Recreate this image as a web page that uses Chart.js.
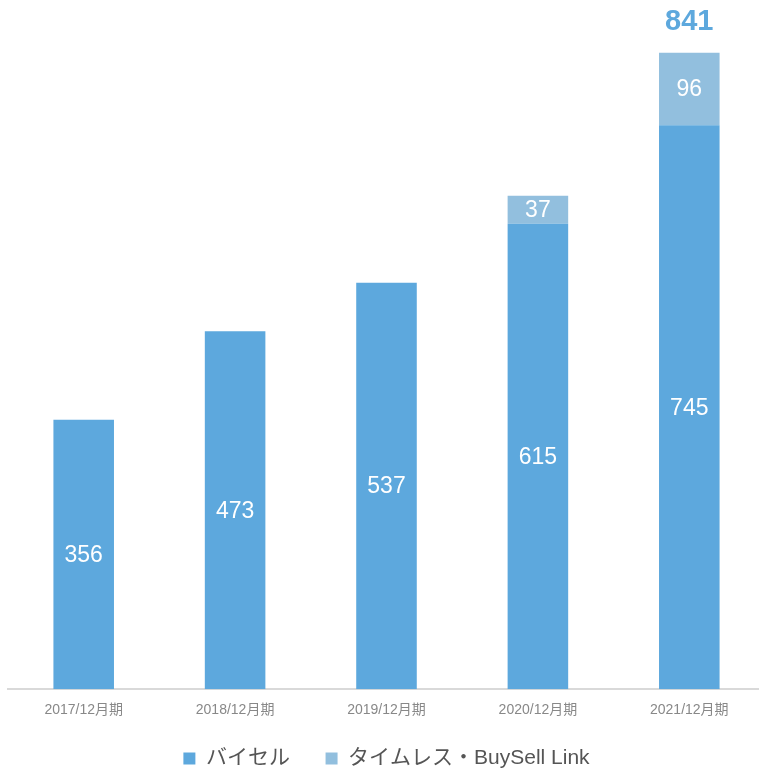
<!DOCTYPE html>
<html>
<head>
<meta charset="utf-8">
<script src="https://cdn.jsdelivr.net/npm/chart.js@4.4.1/dist/chart.umd.min.js"></script>
<style>
  html, body { margin: 0; padding: 0; background: #fff; overflow: hidden; }
  #wrap { width: 782px; height: 769px; }
</style>
</head>
<body>
<div id="wrap"><canvas id="salesChart"></canvas></div>
<script>
const periods = ["2017/12月期", "2018/12月期", "2019/12月期", "2020/12月期", "2021/12月期"];
const buysell = [356, 473, 537, 615, 745];
const timeless = [null, null, null, 37, 96];
const totalLabelIndex = 4;

const FONT = "'Liberation Sans', 'Noto Sans CJK JP', sans-serif";

const barLabels = {
  id: "barLabels",
  afterDatasetsDraw(chart) {
    const ctx = chart.ctx;
    ctx.save();
    ctx.textAlign = "center";
    ctx.textBaseline = "middle";
    chart.data.datasets.forEach((ds, di) => {
      const meta = chart.getDatasetMeta(di);
      meta.data.forEach((bar, i) => {
        const v = ds.data[i];
        if (v == null) return;
        const mid = (bar.y + bar.base) / 2;
        ctx.fillStyle = "#ffffff";
        ctx.font = "23px " + FONT;
        ctx.fillText(String(v), bar.x, mid + 1);
      });
    });
    // total above the last bar
    const top = chart.getDatasetMeta(1).data[totalLabelIndex];
    const total = buysell[totalLabelIndex] + (timeless[totalLabelIndex] || 0);
    ctx.fillStyle = "#5DA8DD";
    ctx.font = "bold 29px " + FONT;
    ctx.fillText(String(total), top.x, top.y - 31);
    ctx.restore();
  }
};

new Chart(document.getElementById("salesChart"), {
  type: "bar",
  data: {
    labels: periods,
    datasets: [
      {
        label: "バイセル",
        data: buysell,
        backgroundColor: "#5DA8DD",
        barPercentage: 0.4,
        categoryPercentage: 1
      },
      {
        label: "タイムレス・BuySell Link",
        data: timeless,
        backgroundColor: "#92BFDE",
        barPercentage: 0.4,
        categoryPercentage: 1
      }
    ]
  },
  options: {
    responsive: true,
    maintainAspectRatio: false,
    animation: false,
    layout: { padding: { left: 8, right: 17, top: 8, bottom: -10 } },
    plugins: {
      tooltip: { enabled: false },
      legend: {
        position: "bottom",
        labels: {
          boxWidth: 12,
          boxHeight: 12,
          padding: 24,
          color: "#555555",
          font: { family: FONT, size: 21 },
          generateLabels(chart) {
            const items = Chart.defaults.plugins.legend.labels.generateLabels(chart);
            items[0].text += "  ";
            return items;
          }
        }
      }
    },
    scales: {
      x: {
        stacked: true,
        grid: { display: false },
        border: { color: "#d9d9d9", width: 2 },
        ticks: {
          color: "#888888",
          padding: 5,
          font: { family: FONT, size: 14 },
          maxRotation: 0
        }
      },
      y: {
        stacked: true,
        display: false,
        min: 0,
        max: 900
      }
    }
  },
  plugins: [barLabels]
});
</script>
</body>
</html>
